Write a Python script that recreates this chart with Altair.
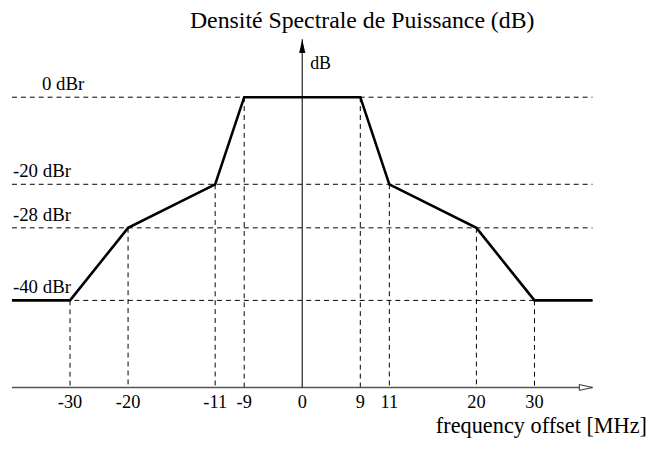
import altair as alt
import pandas as pd

# ---- data ----
FREQ = [-40, -30, -20, -11, -9, 9, 11, 20, 30, 40]          # MHz, mask break points
MASK_DB = [-40, -40, -28, -20, 0, 0, -20, -28, -40, -40]    # dBr at each break point
LEVELS = [0, -20, -28, -40]
LEVEL_LABELS = ["0 dBr", "-20 dBr", "-28 dBr", "-40 dBr"]
TICKS = [-30, -20, -11, -9, 0, 9, 11, 20, 30]
TICK_LABELS = ["-30", "-20", "-11", "-9", "0", "9", "11", "20", "30"]
AXIS_DB = -60      # level drawn as the frequency axis
TOP_DB = 20        # top of the dB arrow

# ---- layout (scale / annotation settings, not data) ----
LEVEL_LABEL_X = [-35, -40, -40, -40]
X_DOMAIN = [-40, -30, -20, -11, -9, 0, 9, 11, 20, 30, 40]
X_UNITS = [-5, -4, -3, -1.5, -1, 0, 1, 1.5, 3, 4, 5]
Y_DOMAIN = [AXIS_DB, -40, -28, -20, 0, TOP_DB]
Y_UNITS = [0, 1.5, 2.75, 3.5, 5, 6]
U = 58.6
CX = 297.0
AXIS_Y = 357
PAD_TOP = 24
W, H = 647, 452 - 16 - PAD_TOP

FONT = "Liberation Serif"

xs = alt.Scale(domain=X_DOMAIN, range=[CX + U * k for k in X_UNITS], nice=False, zero=False)
ys = alt.Scale(domain=Y_DOMAIN, range=[AXIS_Y - U * k for k in Y_UNITS], nice=False, zero=False)

def X(field="x"):
    return alt.X(f"{field}:Q", scale=xs, axis=None)

def Y(field="y"):
    return alt.Y(f"{field}:Q", scale=ys, axis=None)

mask_df = pd.DataFrame({"x": FREQ, "y": MASK_DB, "o": range(len(FREQ))})
levels_df = pd.DataFrame({"x": [FREQ[0]] * len(LEVELS), "x2": [FREQ[-1]] * len(LEVELS), "y": LEVELS})
corner_df = pd.DataFrame({"x": FREQ[1:-1], "y": MASK_DB[1:-1], "y2": [AXIS_DB] * (len(FREQ) - 2)})
lab_df = pd.DataFrame({"x": LEVEL_LABEL_X, "y": LEVELS, "t": LEVEL_LABELS})
tick_df = pd.DataFrame({"x": TICKS, "y": [AXIS_DB] * len(TICKS), "t": TICK_LABELS})
xaxis_df = pd.DataFrame({"x": [FREQ[0]], "x2": [FREQ[-1]], "y": [AXIS_DB]})
yaxis_df = pd.DataFrame({"x": [0], "y": [AXIS_DB], "y2": [TOP_DB]})
yarrow_df = pd.DataFrame({"x": [0], "y": [TOP_DB]})
xarrow_df = pd.DataFrame({"x": [FREQ[-1]], "y": [AXIS_DB]})
ylab_df = pd.DataFrame({"x": [0], "y": [TOP_DB], "t": ["dB"]})
xlab_df = pd.DataFrame({"x": [FREQ[-1]], "y": [AXIS_DB], "t": ["frequency offset [MHz]"]})

hlines = alt.Chart(levels_df).mark_rule(color="black", strokeWidth=1, strokeDash=[5, 4]).encode(
    x=X(), x2="x2:Q", y=Y())
vlines = alt.Chart(corner_df).mark_rule(color="black", strokeWidth=1, strokeDash=[5, 4]).encode(
    x=X(), y=Y(), y2="y2:Q")
xaxis = alt.Chart(xaxis_df).mark_rule(color="#555555", strokeWidth=1.3).encode(
    x=X(), x2="x2:Q", y=Y())
yaxis = alt.Chart(yaxis_df).mark_rule(color="#222222", strokeWidth=1.2).encode(
    x=X(), y=Y(), y2="y2:Q")
yarrow = alt.Chart(yarrow_df).mark_point(
    shape="M0,0L0.4,1.8L-0.4,1.8Z", filled=True, color="black", size=243, opacity=1, strokeWidth=0
).encode(x=X(), y=Y())
xarrow = alt.Chart(xarrow_df).mark_point(
    shape="M0,0L-1.8,-0.4L-1.8,0.4Z", filled=True, fill="white", stroke="#333333",
    strokeWidth=1, size=219, opacity=1
).encode(x=X(), y=Y())
mask = alt.Chart(mask_df).mark_line(color="black", strokeWidth=2.6, strokeJoin="miter").encode(
    x=X(), y=Y(), order="o:Q")
lvl_text = alt.Chart(lab_df).mark_text(
    font=FONT, fontSize=19, align="left", baseline="alphabetic", dx=1, dy=-7, color="black"
).encode(x=X(), y=Y(), text="t:N")
tick_text = alt.Chart(tick_df).mark_text(
    font=FONT, fontSize=18.5, align="center", baseline="alphabetic", dy=21, color="black"
).encode(x=X(), y=Y(), text="t:N")
ylab = alt.Chart(ylab_df).mark_text(
    font=FONT, fontSize=18, align="left", baseline="alphabetic", dx=8, dy=30, color="black"
).encode(x=X(), y=Y(), text="t:N")
xlab = alt.Chart(xlab_df).mark_text(
    font=FONT, fontSize=22.5, align="right", baseline="alphabetic", dx=55, dy=46, color="black"
).encode(x=X(), y=Y(), text="t:N")

chart = alt.layer(
    hlines, vlines, xaxis, yaxis, mask, yarrow, xarrow, lvl_text, tick_text, ylab, xlab
).properties(
    width=W,
    height=H,
    padding={"left": 0, "top": PAD_TOP, "right": 0, "bottom": 0},
    autosize=alt.AutoSizeParams(type="none"),
    title=alt.TitleParams(
        text="Densité Spectrale de Puissance (dB)",
        font=FONT, fontSize=24, fontWeight="normal", color="black",
        anchor="middle", frame="group", dx=34, offset=1,
    ),
).configure_view(stroke=None)

chart.save("out.html", embed_options={"renderer": "svg", "actions": False})
